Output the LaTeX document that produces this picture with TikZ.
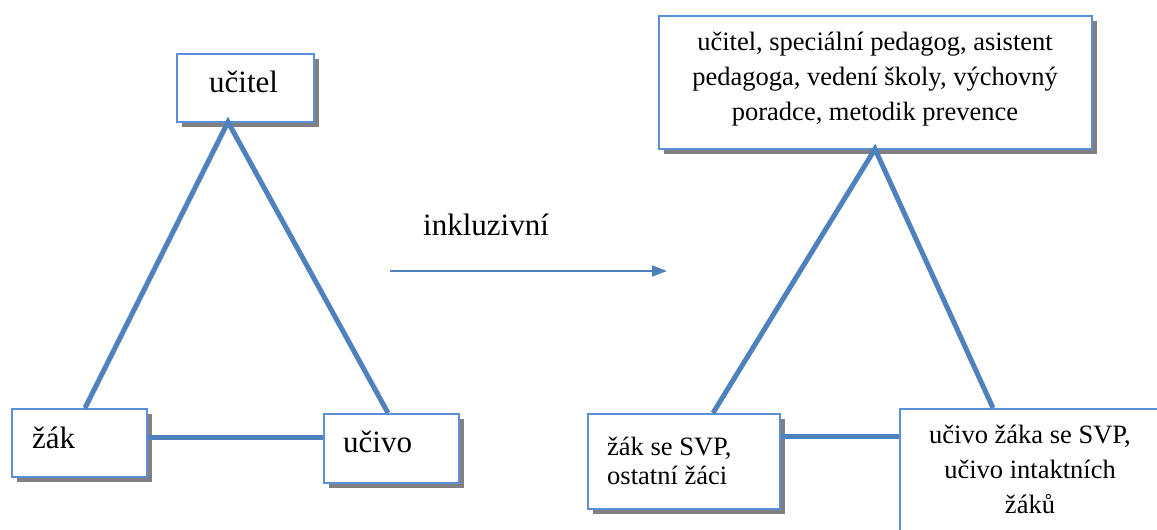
\documentclass[tikz,border=0pt]{standalone}
\usepackage{fontspec}
\setmainfont{Liberation Serif}
\usetikzlibrary{arrows.meta,shadows}
\definecolor{lineblue}{HTML}{4F81BD}
\definecolor{boxblue}{HTML}{5B8FD6}
\definecolor{shadowgray}{HTML}{808080}
\tikzset{
  boxnode/.style={draw=boxblue, line width=1.5pt, fill=white, inner sep=0pt, anchor=north west,
    drop shadow={shadow xshift=5.5pt, shadow yshift=-5pt, fill=shadowgray, opacity=1}},
  bigtext/.style={inner sep=0pt, font=\fontsize{31}{37}\selectfont},
  smalltext/.style={inner sep=0pt, font=\fontsize{26.5}{35}\selectfont},
  tri/.style={draw=lineblue, line width=5pt, line join=miter, line cap=butt},
  flow/.style={draw=lineblue, line width=2pt, -{Triangle[length=15pt,width=11pt]}}
}
\begin{document}
\begin{tikzpicture}[x=1pt,y=-1pt]
\useasboundingbox (0,0) rectangle (1157,530);
% boxes
\node[boxnode, minimum width=137pt, minimum height=68pt] (ucitelbox) at (176,53) {};
\node[boxnode, minimum width=135pt, minimum height=68pt] (zakbox) at (11,408) {};
\node[boxnode, minimum width=135pt, minimum height=69pt] (ucivobox) at (323,413) {};
\node[boxnode, minimum width=433pt, minimum height=133pt] (topbox) at (658,15) {};
\node[boxnode, minimum width=192pt, minimum height=95pt] (zaksvp) at (587,413) {};
\node[boxnode, minimum width=262pt, minimum height=140pt] (ucivosvp) at (899,408) {};
% connector coordinates
\coordinate (la) at (228,122);
\coordinate (ll) at (85,408);
\coordinate (lr) at (388,413);
\coordinate (ra) at (875,149);
\coordinate (rl) at (713,413);
\coordinate (rr) at (993,408);
% triangles
\draw[tri] (ll) -- (la) -- (lr);
\draw[tri] (rl) -- (ra) -- (rr);
\draw[tri] (zakbox.east |- 0,437) -- (ucivobox.west |- 0,437);
\draw[tri] (zaksvp.east |- 0,436) -- (ucivosvp.west |- 0,436);
% labels
\node[bigtext, anchor=base west] (t1) at (209,92) {učitel};
\node[bigtext, anchor=base west] (t2) at (32,448) {žák};
\node[bigtext, anchor=base west] (t3) at (343,452) {učivo};
\node[bigtext, anchor=base west] (t4) at (423,235) {inkluzivní};
\node[smalltext, anchor=base, align=center] (t5) at (875,120) {učitel, speciální pedagog, asistent\\pedagoga, vedení školy, výchovný\\poradce, metodik prevence};
\node[smalltext, anchor=base west, align=left, font=\fontsize{26.5}{29}\selectfont] (t6) at (607,484) {žák se SVP,\\ostatní žáci};
\node[smalltext, anchor=base, align=center] (t7) at (1030,513) {učivo žáka se SVP,\\učivo intaktních\\žáků};
% arrow
\coordinate (as) at (390,271);
\coordinate (ae) at (667,271);
\draw[flow] (as) -- (ae);
\end{tikzpicture}
\end{document}
